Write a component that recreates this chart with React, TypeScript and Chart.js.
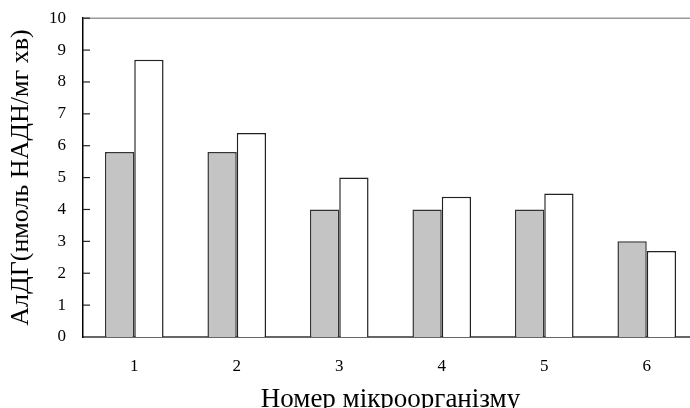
import React, { useEffect, useRef } from "react";
import { Chart, registerables } from "chart.js";

Chart.register(...registerables);

const categories = ["1", "2", "3", "4", "5", "6"];
const seriesGray = [5.8, 5.8, 4.0, 4.0, 4.0, 3.0];
const seriesWhite = [8.7, 6.4, 5.0, 4.4, 4.5, 2.7];
const yTicks = [0, 1, 2, 3, 4, 5, 6, 7, 8, 9, 10];
const yTitle = "АлДГ(нмоль НАДН/мг хв)";
const xTitle = "Номер мікроорганізму";

const FONT = "'Liberation Serif', 'Times New Roman', serif";

const framePlugin = {
  id: "framePlugin",
  afterDraw(chart: any) {
    const { ctx, chartArea } = chart;
    const y = chart.scales.y;
    ctx.save();
    ctx.strokeStyle = "#9a9a9a";
    ctx.lineWidth = 1.5;
    ctx.beginPath();
    ctx.moveTo(chartArea.left, chartArea.top);
    ctx.lineTo(chartArea.right, chartArea.top);
    ctx.stroke();
    ctx.strokeStyle = "#222";
    ctx.lineWidth = 1.2;
    yTicks.forEach((v) => {
      if (v === 0) return;
      const py = y.getPixelForValue(v);
      ctx.beginPath();
      ctx.moveTo(chartArea.left, py);
      ctx.lineTo(chartArea.left + 7, py);
      ctx.stroke();
    });
    ctx.fillStyle = "#000";
    ctx.font = `27px ${FONT}`;
    ctx.textAlign = "center";
    ctx.textBaseline = "alphabetic";
    ctx.fillText(xTitle, (chartArea.left + chartArea.right) / 2, 407);
    ctx.restore();
  },
};

export default function App() {
  const ref = useRef<HTMLCanvasElement | null>(null);
  useEffect(() => {
    if (!ref.current) return;
    const chart = new Chart(ref.current, {
      type: "bar",
      data: {
        labels: categories,
        datasets: [
          {
            data: seriesGray,
            backgroundColor: "#c3c4c3",
            borderColor: "#333",
            borderWidth: 1.5,
            categoryPercentage: 0.572,
            barPercentage: 1,
          },
          {
            data: seriesWhite,
            backgroundColor: "#ffffff",
            borderColor: "#222",
            borderWidth: 1.5,
            categoryPercentage: 0.572,
            barPercentage: 1,
          },
        ],
      },
      options: {
        responsive: false,
        animation: false,
        layout: { padding: { left: 0, top: 0, right: 2, bottom: 0 } },
        plugins: { legend: { display: false }, tooltip: { enabled: false } },
        scales: {
          x: {
            grid: { display: false, drawTicks: false },
            border: { color: "#666", width: 2 },
            ticks: { color: "#000", font: { family: FONT, size: 17 }, padding: 19 },
            afterFit: (s: any) => {
              s.height = 71;
            },
          },
          y: {
            min: 0,
            max: 10,
            grid: { display: false, drawTicks: true, tickLength: 9 },
            border: { color: "#000", width: 1.5 },
            ticks: {
              stepSize: 1,
              color: "#000",
              font: { family: FONT, size: 17 },
              padding: 8,
            },
            title: {
              display: true,
              text: yTitle,
              color: "#000",
              font: { family: FONT, size: 26 },
              padding: { top: 6, bottom: 0 },
            },
            afterFit: (s: any) => {
              s.width = 83;
            },
          },
        },
      },
      plugins: [framePlugin],
    });
    return () => chart.destroy();
  }, []);
  return (
    <div style={{ position: "fixed", left: 0, top: 0, width: 690, height: 408, overflow: "hidden", background: "#fff" }}>
      <canvas ref={ref} width={700} height={408} style={{ display: "block" }} />
    </div>
  );
}
